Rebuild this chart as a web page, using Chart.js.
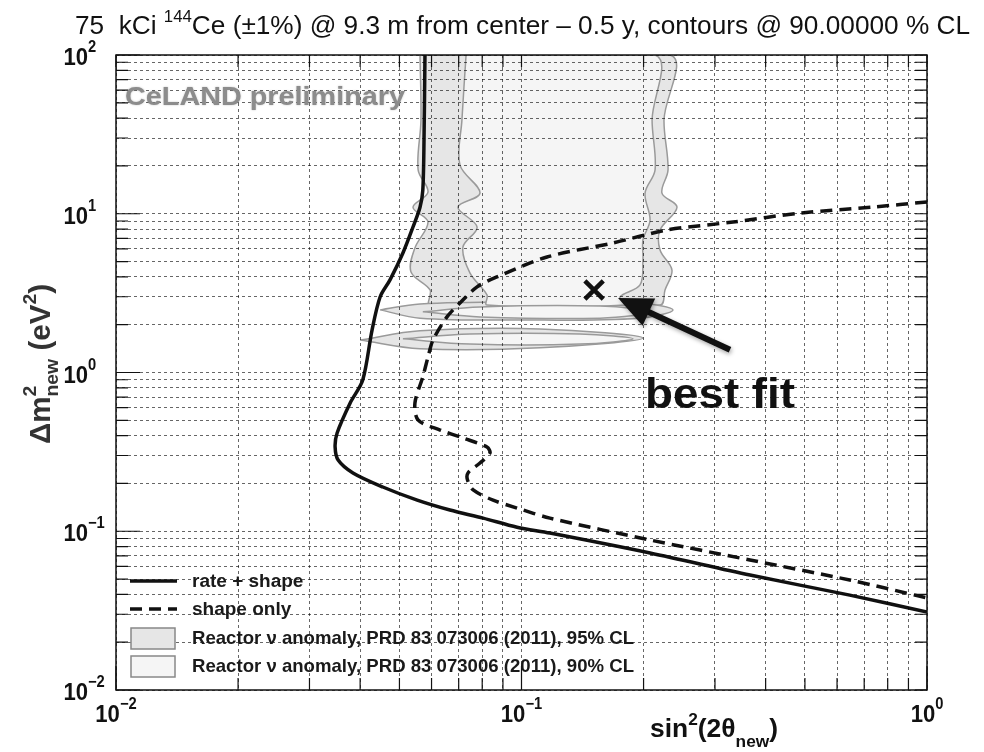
<!DOCTYPE html>
<html>
<head>
<meta charset="utf-8">
<script src="https://cdn.jsdelivr.net/npm/chart.js@4.4.0/dist/chart.umd.min.js"></script>
<style>
html, body { margin: 0; padding: 0; background: #fff; }
#wrap { width: 984px; height: 752px; }
</style>
</head>
<body>
<div id="wrap"><canvas id="c" width="984" height="752"></canvas></div>
<script>
"use strict";

// axis ranges and tick labels (decades, exponents)
var xDecades = [0.01, 0.1, 1];
var xExponents = ['\u22122', '\u22121', '0'];
var yDecades = [0.01, 0.1, 1, 10, 100];
var yExponents = ['\u22122', '\u22121', '0', '1', '2'];
var minorSteps = [1, 2, 3, 4, 5, 6, 7, 8, 9];

// exclusion contours [sin^2(2theta), dm^2]
var rateShape = [[0.0578, 100], [0.0575, 30], [0.0571, 14.1], [0.0562, 11.0], [0.0540, 8.25], [0.0510, 5.66],
    [0.0474, 3.83], [0.0448, 2.99], [0.0428, 1.85], [0.0406, 0.897], [0.0378, 0.643], [0.0351, 0.416],
    [0.0347, 0.340], [0.0353, 0.281], [0.0384, 0.233], [0.0455, 0.190], [0.0553, 0.157], [0.0666, 0.136],
    [0.0804, 0.121], [0.0975, 0.106], [0.1175, 0.0975], [0.2075, 0.0730], [0.366, 0.0530], [0.645, 0.0396],
    [1.0, 0.0310]];
var shapeOnly = [[1.0, 11.86], [0.736, 11.03], [0.486, 10.1], [0.3324, 8.87], [0.2285, 7.90], [0.168, 6.54],
    [0.1156, 5.34], [0.0870, 4.00], [0.0777, 3.46], [0.0705, 2.74], [0.0655, 2.24], [0.0605, 1.60],
    [0.0588, 1.25], [0.0571, 0.937], [0.0546, 0.643], [0.0556, 0.502], [0.0630, 0.434], [0.0717, 0.387],
    [0.0822, 0.339], [0.0836, 0.311], [0.0790, 0.269], [0.0738, 0.233], [0.0736, 0.210], [0.0760, 0.182],
    [0.0851, 0.157], [0.0975, 0.140], [0.1175, 0.121], [0.2075, 0.0881], [0.366, 0.0659], [0.645, 0.0493],
    [1.0, 0.0380]];

// reactor anomaly allowed regions
var cl95Body = [[0.0562, 100], [0.0565, 38.9], [0.0556, 18.9], [0.0588, 13.7], [0.0540, 11.0], [0.0588, 8.87],
    [0.0546, 6.09], [0.0534, 4.30], [0.0595, 3.31], [0.0595, 2.66], [0.2196, 2.66], [0.2259, 3.31],
    [0.2350, 4.42], [0.2196, 5.91], [0.2196, 7.90], [0.2418, 11.0], [0.222, 13.5], [0.2298, 18.9],
    [0.2246, 38.9], [0.2324, 100]];
var cl95LobeHigh = [[0.0448, 2.48], [0.0562, 2.70], [0.0992, 2.78], [0.196, 2.74], [0.2364, 2.48],
    [0.196, 2.20], [0.0992, 2.14], [0.0562, 2.20]];
var cl95LobeLow = [[0.0400, 1.60], [0.0562, 1.83], [0.1111, 1.88], [0.1993, 1.65], [0.1111, 1.43],
    [0.0562, 1.41]];
var cl90Body = [[0.0730, 100], [0.0713, 38.9], [0.0705, 20.3], [0.0790, 13.5], [0.0697, 11.0], [0.0777, 8.25],
    [0.0717, 6.17], [0.0746, 4.24], [0.0822, 3.08], [0.0822, 2.66], [0.180, 2.66], [0.1749, 2.99],
    [0.196, 3.56], [0.1993, 5.12], [0.1993, 6.84], [0.2075, 9.13], [0.2017, 13.5], [0.2135, 18.9],
    [0.2099, 38.9], [0.2135, 100]];
var cl90LobeHigh = [[0.0571, 2.41], [0.0790, 2.59], [0.1562, 2.62], [0.2111, 2.41], [0.1562, 2.20],
    [0.0790, 2.24]];
var cl90LobeLow = [[0.0510, 1.63], [0.0746, 1.75], [0.1394, 1.75], [0.1884, 1.63], [0.1394, 1.51],
    [0.0746, 1.51]];

var bestFit = [[0.151, 3.31]];
var arrowTail = [0.3267, 1.39];
var arrowTip = [0.173, 2.95];
var bestFitLabelAt = [0.2017, 0.60];

var legendLabels = ['rate + shape', 'shape only',
    'Reactor \u03bd anomaly, PRD 83 073006 (2011), 95% CL',
    'Reactor \u03bd anomaly, PRD 83 073006 (2011), 90% CL'];

var FONT = '"Liberation Sans", Arial, Helvetica, sans-serif';
var fill95 = '#e6e6e6', fill90 = '#f5f5f5', edge = '#9a9a9a';

function pts(arr, closed) {
    var out = arr.map(function (p) { return { x: p[0], y: p[1] }; });
    if (closed) out.push({ x: arr[0][0], y: arr[0][1] });
    return out;
}

function region(arr, color) {
    return {
        data: pts(arr, true), showLine: true, fill: 'shape', backgroundColor: color,
        borderColor: edge, borderWidth: 1.5, pointRadius: 0, tension: 0.35
    };
}

function logTicks(decades) {
    var t = [];
    decades.forEach(function (d, i) {
        minorSteps.forEach(function (m) {
            if (i < decades.length - 1 || m === 1) t.push({ value: d * m, major: m === 1 });
        });
    });
    return t;
}

// text with super/subscripts: parts = [{t, size, dy, stack}]
function richWidth(ctx, parts, weight) {
    var w = 0, lastW = 0;
    parts.forEach(function (p) {
        ctx.font = weight + ' ' + p.size + 'px ' + FONT;
        p.w = ctx.measureText(p.t).width;
        if (p.stack) { if (p.w > lastW) w += p.w - lastW; }
        else { w += p.w; lastW = p.w; }
    });
    return w;
}

function drawRich(ctx, parts, weight, x, y, sx) {
    richWidth(ctx, parts, weight);
    ctx.save();
    ctx.translate(x, y);
    ctx.scale(sx || 1, 1);
    var cx = 0, lastX = 0, lastW = 0;
    parts.forEach(function (p) {
        ctx.font = weight + ' ' + p.size + 'px ' + FONT;
        if (p.stack) {
            ctx.fillText(p.t, lastX, p.dy || 0);
            cx = lastX + Math.max(lastW, p.w);
        } else {
            ctx.fillText(p.t, cx, p.dy || 0);
            lastX = cx; lastW = p.w;
            cx += p.w;
        }
    });
    ctx.restore();
}

var decorations = {
    id: 'decorations',
    afterDraw: function (chart) {
        var ctx = chart.ctx, a = chart.chartArea;
        var xs = chart.scales.x, ys = chart.scales.y;
        ctx.save();
        ctx.fillStyle = '#111';
        ctx.strokeStyle = '#111';
        ctx.textBaseline = 'alphabetic';

        // frame
        ctx.lineWidth = 1.5;
        ctx.strokeRect(a.left, a.top, a.right - a.left, a.bottom - a.top);

        // inward tick marks on all four sides
        ctx.lineWidth = 1.2;
        ctx.beginPath();
        xs.ticks.forEach(function (t) {
            var px = xs.getPixelForValue(t.value);
            var len = t.major ? 24 : 12;
            ctx.moveTo(px, a.bottom); ctx.lineTo(px, a.bottom - len);
            ctx.moveTo(px, a.top); ctx.lineTo(px, a.top + 12);
        });
        ys.ticks.forEach(function (t) {
            var py = ys.getPixelForValue(t.value);
            var len = t.major ? 24 : 12;
            ctx.moveTo(a.left, py); ctx.lineTo(a.left + len, py);
            ctx.moveTo(a.right, py); ctx.lineTo(a.right - 12, py);
        });
        ctx.stroke();

        // tick labels 10^n
        var sx = 0.92;
        xDecades.forEach(function (d, i) {
            var parts = [{ t: '10', size: 24 }, { t: xExponents[i], size: 16, dy: -13 }];
            var w = richWidth(ctx, parts, 'bold') * sx;
            drawRich(ctx, parts, 'bold', xs.getPixelForValue(d) - w / 2, 722, sx);
        });
        yDecades.forEach(function (d, i) {
            var parts = [{ t: '10', size: 24 }, { t: yExponents[i], size: 16, dy: -13 }];
            richWidth(ctx, parts, 'bold');
            drawRich(ctx, parts, 'bold', 88 - parts[0].w * sx, ys.getPixelForValue(d) + 10, sx);
        });

        // axis titles
        var xt = [{ t: 'sin', size: 26 }, { t: '2', size: 17, dy: -12 }, { t: '(2\u03b8', size: 26 },
            { t: 'new', size: 17, dy: 10 }, { t: ')', size: 26 }];
        var xw = richWidth(ctx, xt, 'bold');
        drawRich(ctx, xt, 'bold', 650, 737, 128 / xw);

        ctx.save();
        ctx.fillStyle = '#333';
        ctx.translate(50, 444);
        ctx.rotate(-Math.PI / 2);
        var yt = [{ t: '\u0394m', size: 29 }, { t: '2', size: 19, dy: -14 }, { t: 'new', size: 19, dy: 8, stack: true },
            { t: ' (eV', size: 29 }, { t: '2', size: 19, dy: -14 }, { t: ')', size: 29 }];
        var yw = richWidth(ctx, yt, 'bold');
        drawRich(ctx, yt, 'bold', 0, 0, 160 / yw);
        ctx.restore();

        // title
        var tt = [{ t: '75  kCi ', size: 25 }, { t: '144', size: 16, dy: -12 },
            { t: 'Ce (\u00b11%) @ 9.3 m from center \u2013 0.5 y, contours @ 90.00000 % CL', size: 25 }];
        var tw = richWidth(ctx, tt, 'normal');
        drawRich(ctx, tt, 'normal', 75, 34, 895 / tw);

        // watermark
        ctx.save();
        ctx.fillStyle = '#8c8c8c';
        ctx.shadowColor = 'rgba(0,0,0,0.25)';
        ctx.shadowBlur = 2;
        ctx.font = 'bold 25px ' + FONT;
        var ww = ctx.measureText('CeLAND preliminary').width;
        ctx.translate(a.left + 9, a.top + 50);
        ctx.scale(280 / ww, 1);
        ctx.fillText('CeLAND preliminary', 0, 0);
        ctx.restore();

        // best fit arrow
        var tx = xs.getPixelForValue(arrowTail[0]), ty = ys.getPixelForValue(arrowTail[1]);
        var hx = xs.getPixelForValue(arrowTip[0]), hy = ys.getPixelForValue(arrowTip[1]);
        var ang = Math.atan2(hy - ty, hx - tx);
        ctx.save();
        ctx.shadowColor = 'rgba(0,0,0,0.35)';
        ctx.shadowBlur = 4; ctx.shadowOffsetX = 1; ctx.shadowOffsetY = 2;
        ctx.lineWidth = 6;
        ctx.beginPath();
        ctx.moveTo(tx, ty);
        ctx.lineTo(hx - 20 * Math.cos(ang), hy - 20 * Math.sin(ang));
        ctx.stroke();
        ctx.beginPath();
        ctx.moveTo(hx, hy);
        ctx.lineTo(hx - 34 * Math.cos(ang) + 15 * Math.sin(ang), hy - 34 * Math.sin(ang) - 15 * Math.cos(ang));
        ctx.lineTo(hx - 34 * Math.cos(ang) - 15 * Math.sin(ang), hy - 34 * Math.sin(ang) + 15 * Math.cos(ang));
        ctx.closePath();
        ctx.fill();
        ctx.restore();

        // best fit label
        ctx.save();
        ctx.font = 'bold 42px ' + FONT;
        var bw = ctx.measureText('best fit').width;
        ctx.translate(xs.getPixelForValue(bestFitLabelAt[0]), ys.getPixelForValue(bestFitLabelAt[1]));
        ctx.scale(150 / bw, 1);
        ctx.fillText('best fit', 0, 0);
        ctx.restore();

        // legend
        var lx = a.left + 14, tx0 = a.left + 76;
        var rows = [581, 609, 638, 666];
        ctx.font = 'bold 19px ' + FONT;
        ctx.textBaseline = 'middle';
        ctx.lineWidth = 3.5;
        ctx.beginPath(); ctx.moveTo(lx, rows[0]); ctx.lineTo(lx + 47, rows[0]); ctx.stroke();
        ctx.setLineDash([12, 7]);
        ctx.beginPath(); ctx.moveTo(lx, rows[1]); ctx.lineTo(lx + 47, rows[1]); ctx.stroke();
        ctx.setLineDash([]);
        ctx.lineWidth = 1.5;
        ctx.strokeStyle = '#888';
        ctx.fillStyle = fill95;
        ctx.fillRect(lx + 1, rows[2] - 10, 44, 21); ctx.strokeRect(lx + 1, rows[2] - 10, 44, 21);
        ctx.fillStyle = fill90;
        ctx.fillRect(lx + 1, rows[3] - 10, 44, 21); ctx.strokeRect(lx + 1, rows[3] - 10, 44, 21);
        ctx.fillStyle = '#1a1a1a';
        legendLabels.forEach(function (l, i) {
            var w = ctx.measureText(l).width;
            var target = i < 2 ? w : 442;
            ctx.save();
            ctx.translate(tx0, rows[i] + 1);
            ctx.scale(target / w, 1);
            ctx.fillText(l, 0, 0);
            ctx.restore();
        });
        ctx.restore();
    }
};

// first dataset is painted last (on top)
var datasets = [
    {
        label: 'best fit', data: pts(bestFit), showLine: false, pointStyle: 'crossRot', pointRadius: 13,
        borderColor: '#111', borderWidth: 4.5
    },
    {
        label: 'rate + shape', data: pts(rateShape), showLine: true, borderColor: '#111', borderWidth: 3.5,
        pointRadius: 0, tension: 0.3, fill: false
    },
    {
        label: 'shape only', data: pts(shapeOnly), showLine: true, borderColor: '#111', borderWidth: 3.5,
        borderDash: [12, 7], pointRadius: 0, tension: 0.3, fill: false
    },
    region(cl90LobeLow, fill90),
    region(cl90LobeHigh, fill90),
    region(cl90Body, fill90),
    region(cl95LobeLow, fill95),
    region(cl95LobeHigh, fill95),
    region(cl95Body, fill95)
];

function axis(min, max, decades, size, isX) {
    return {
        type: 'logarithmic', min: min, max: max,
        afterBuildTicks: function (scale) { scale.ticks = logTicks(decades); },
        afterFit: function (scale) {
            if (isX) scale.height = size; else scale.width = size;
        },
        ticks: { display: false },
        grid: { color: 'rgba(0,0,0,0.6)', lineWidth: 1, drawTicks: false, z: 1 },
        border: { display: false, dash: [3, 3] }
    };
}

new Chart(document.getElementById('c'), {
    type: 'scatter',
    data: { datasets: datasets },
    options: {
        responsive: false,
        animation: false,
        layout: { padding: { left: 0, top: 55, right: 57, bottom: 0 } },
        plugins: { legend: { display: false }, tooltip: { enabled: false } },
        scales: {
            x: axis(0.01, 1, xDecades, 62, true),
            y: axis(0.01, 100, yDecades, 116, false)
        }
    },
    plugins: [decorations]
});
</script>
</body>
</html>
